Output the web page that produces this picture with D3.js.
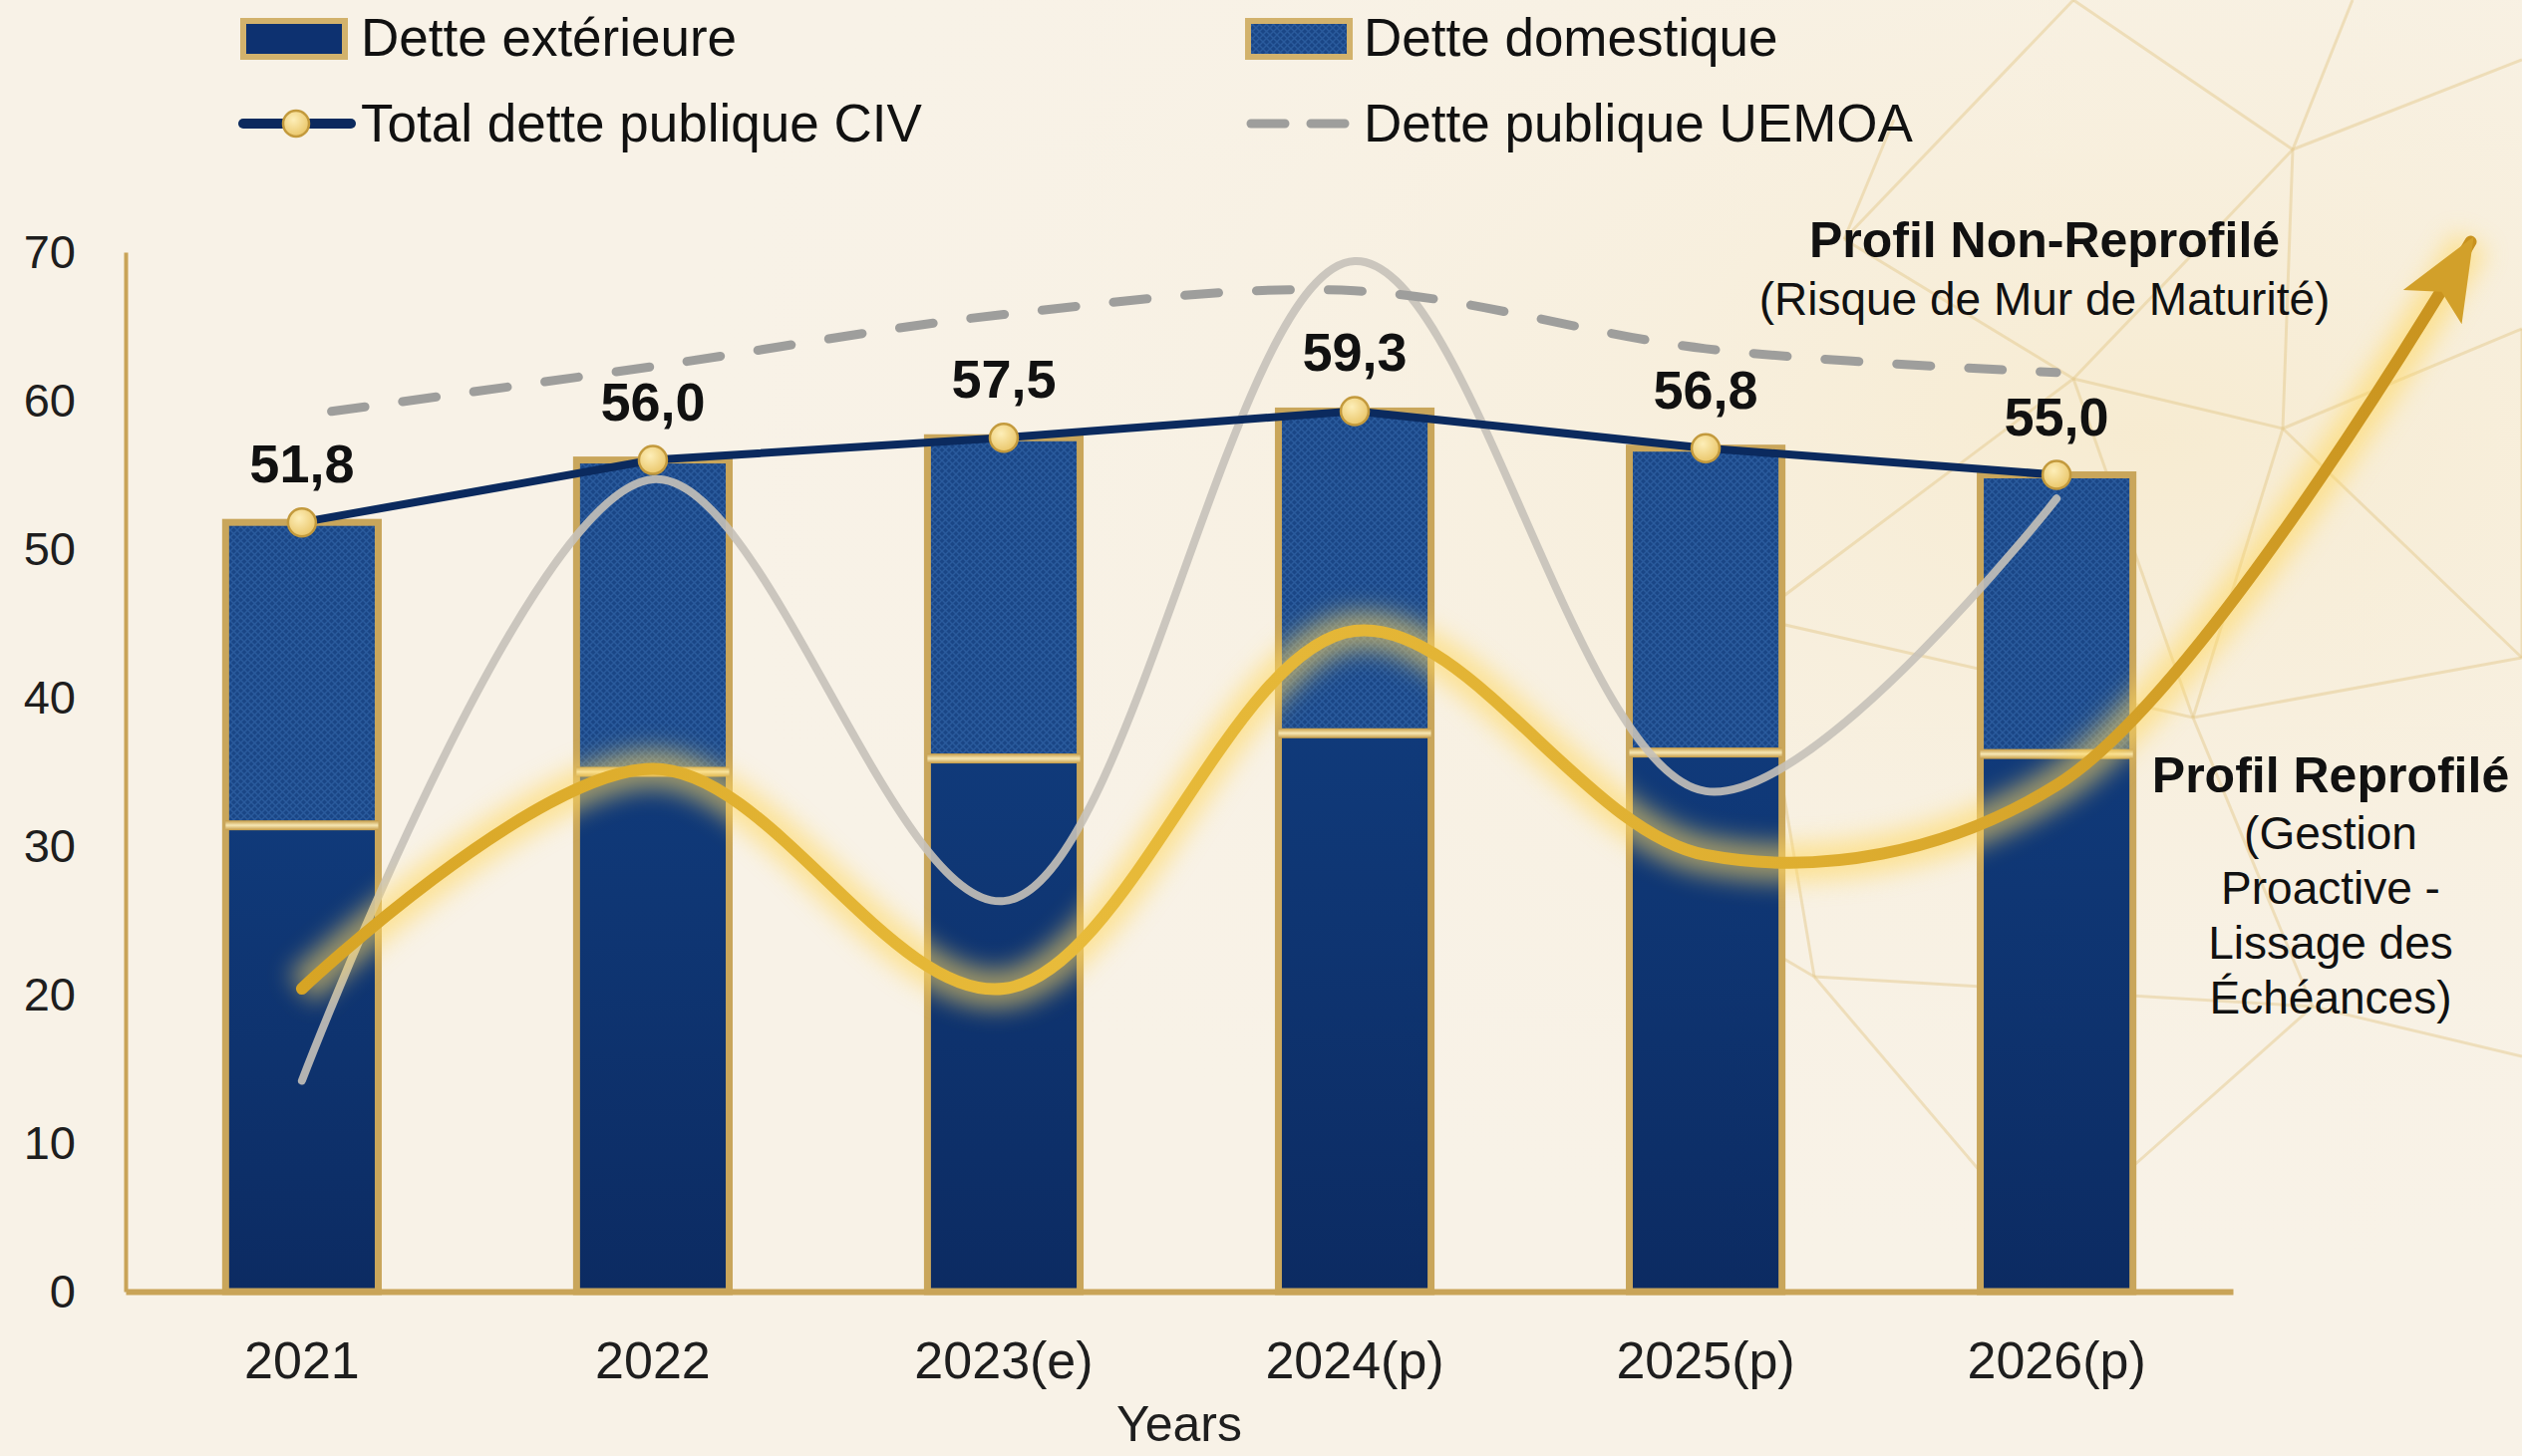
<!doctype html>
<html>
<head>
<meta charset="utf-8">
<script src="https://cdn.jsdelivr.net/npm/d3@7"></script>
<style>
  body { margin: 0; background: #f8f2e7; }
  svg { display: block; font-family: "Liberation Sans", Arial, sans-serif; }
</style>
</head>
<body>
<svg id="chart" width="2530" height="1461"></svg>
<script>
// ---- data ----
const years = ["2021", "2022", "2023(e)", "2024(p)", "2025(p)", "2026(p)"];
const detteExterieure = [31.4, 35.0, 35.9, 37.6, 36.3, 36.2];
const detteDomestique = [20.4, 21.0, 21.6, 21.7, 20.5, 18.8];
const totalDette = [51.8, 56.0, 57.5, 59.3, 56.8, 55.0];
const totalLabels = ["51,8", "56,0", "57,5", "59,3", "56,8", "55,0"];
const detteUemoa = [59.0, 62.3, 65.8, 67.4, 63.5, 61.9];
const profilNonReprofile = [14.2, 54.7, 26.3, 69.4, 33.7, 53.4];
const profilReprofile = [20.4, 35.2, 20.4, 44.5, 29.4, 34.1];
const reprofileArrowTip = { pos: 6.18, value: 70.7 };
const yTicks = [0, 10, 20, 30, 40, 50, 60, 70];

// faint decorative lattice in the background (not data)
const decoLines = [
  [2080, 0, 2300, 150], [2300, 150, 2530, 60], [2300, 150, 2290, 430], [2080, 380, 2300, 150],
  [2080, 380, 2290, 430], [2290, 430, 2530, 330], [2290, 430, 2200, 720], [2080, 380, 2200, 720],
  [2200, 720, 2530, 660], [1850, 240, 2080, 380], [1850, 240, 2080, 0], [1760, 620, 2080, 380],
  [1760, 620, 2200, 720], [2200, 720, 2320, 1010], [1760, 620, 1820, 980], [1820, 980, 2320, 1010],
  [2320, 1010, 2530, 1060], [1820, 980, 2050, 1250], [2050, 1250, 2320, 1010], [2530, 330, 2530, 660],
  [2290, 430, 2530, 660], [1900, 120, 1850, 240], [2360, 0, 2300, 150], [1650, 880, 1820, 980]
];

const svg = d3.select("#chart");
const defs = svg.append("defs");

// background
const bgGrad = defs.append("radialGradient").attr("id", "bgGlow")
  .attr("cx", 0.85).attr("cy", 0.3).attr("r", 0.6);
bgGrad.append("stop").attr("offset", "0%").attr("stop-color", "#f6e6bf").attr("stop-opacity", 0.55);
bgGrad.append("stop").attr("offset", "100%").attr("stop-color", "#f8f2e7").attr("stop-opacity", 0);
svg.append("rect").attr("width", 2530).attr("height", 1461).attr("fill", "#f8f2e7");
svg.append("rect").attr("width", 2530).attr("height", 1461).attr("fill", "url(#bgGlow)");
svg.append("g").selectAll("line").data(decoLines).enter().append("line")
  .attr("x1", d => d[0]).attr("y1", d => d[1]).attr("x2", d => d[2]).attr("y2", d => d[3])
  .style("stroke", "#e3c788").style("stroke-width", 3).style("opacity", 0.45);

// gradients and patterns
const extGrad = defs.append("linearGradient").attr("id", "extGrad").attr("x1", 0).attr("y1", 0).attr("x2", 0).attr("y2", 1);
extGrad.append("stop").attr("offset", "0%").attr("stop-color", "#103a7a");
extGrad.append("stop").attr("offset", "100%").attr("stop-color", "#0c2b62");

const domPat = defs.append("pattern").attr("id", "domPat").attr("patternUnits", "userSpaceOnUse")
  .attr("width", 7).attr("height", 7);
domPat.append("rect").attr("width", 7).attr("height", 7).attr("fill", "#1a4686");
domPat.append("path").attr("d", "M0,0L7,7M7,0L0,7").style("stroke", "#2a5b9d").style("stroke-width", 1.4);

const sepGrad = defs.append("linearGradient").attr("id", "sepGrad").attr("x1", 0).attr("y1", 0).attr("x2", 0).attr("y2", 1);
sepGrad.append("stop").attr("offset", "0%").attr("stop-color", "#c49a45");
sepGrad.append("stop").attr("offset", "50%").attr("stop-color", "#f6e7b4");
sepGrad.append("stop").attr("offset", "100%").attr("stop-color", "#c49a45");

const goldGrad = defs.append("linearGradient").attr("id", "goldGrad")
  .attr("gradientUnits", "userSpaceOnUse").attr("x1", 300).attr("y1", 0).attr("x2", 2480).attr("y2", 0);
goldGrad.append("stop").attr("offset", "0%").attr("stop-color", "#d7a424");
goldGrad.append("stop").attr("offset", "35%").attr("stop-color", "#e8bb3a");
goldGrad.append("stop").attr("offset", "70%").attr("stop-color", "#deae30");
goldGrad.append("stop").attr("offset", "100%").attr("stop-color", "#c8921e");

const dotGrad = defs.append("radialGradient").attr("id", "dotGrad").attr("cx", 0.4).attr("cy", 0.35).attr("r", 0.7);
dotGrad.append("stop").attr("offset", "0%").attr("stop-color", "#fdeeb8");
dotGrad.append("stop").attr("offset", "100%").attr("stop-color", "#e9c465");

defs.append("filter").attr("id", "glow").attr("x", "-20%").attr("y", "-40%").attr("width", "140%").attr("height", "180%")
  .append("feGaussianBlur").attr("stdDeviation", 12);

defs.append("marker").attr("id", "arrow").attr("markerUnits", "userSpaceOnUse")
  .attr("viewBox", "0 0 86 76").attr("refX", 76).attr("refY", 38)
  .attr("markerWidth", 86).attr("markerHeight", 76).attr("orient", "auto")
  .append("path").attr("d", "M0,4L82,38L0,72L18,38Z").attr("fill", "#d2a02a");

// scales
const x = d3.scaleBand().domain(years).range([126, 2240]).paddingInner(0.565).paddingOuter(0.285);
const y = d3.scaleLinear().domain([0, 70]).range([1296, 253]);
const cx = i => x(years[i]) + x.bandwidth() / 2;
const xPos = d3.scaleLinear().domain([0, years.length - 1]).range([cx(0), cx(years.length - 1)]);

// axes
const yAxisG = svg.append("g").attr("transform", "translate(126,0)")
  .call(d3.axisLeft(y).tickValues(yTicks).tickSize(0).tickSizeOuter(0).tickPadding(50));
yAxisG.select(".domain").style("stroke", "#c9a458").style("stroke-width", 4);
yAxisG.selectAll("text").style("font-size", "47px").style("fill", "#1e1e1e")
  .style("font-family", "'Liberation Sans', Arial, sans-serif");

// stacked bars
const table = years.map((yr, i) => ({ year: yr, ext: detteExterieure[i], dom: detteDomestique[i] }));
const stacked = d3.stack().keys(["ext", "dom"])(table);

const barG = svg.append("g");
barG.selectAll("rect.ext").data(stacked[0]).enter().append("rect")
  .attr("x", d => x(d.data.year)).attr("width", x.bandwidth())
  .attr("y", d => y(d[1])).attr("height", d => y(d[0]) - y(d[1]))
  .attr("fill", "url(#extGrad)");
barG.selectAll("rect.dom").data(stacked[1]).enter().append("rect")
  .attr("x", d => x(d.data.year)).attr("width", x.bandwidth())
  .attr("y", d => y(d[1])).attr("height", d => y(d[0]) - y(d[1]))
  .attr("fill", "url(#domPat)");
barG.selectAll("rect.frame").data(stacked[1]).enter().append("rect")
  .attr("x", d => x(d.data.year)).attr("width", x.bandwidth())
  .attr("y", d => y(d[1])).attr("height", d => y(0) - y(d[1]))
  .attr("fill", "none").style("stroke", "#c9a65b").style("stroke-width", 7);
barG.selectAll("rect.sep").data(stacked[0]).enter().append("rect")
  .attr("x", d => x(d.data.year)).attr("width", x.bandwidth())
  .attr("y", d => y(d[1]) - 5).attr("height", 10)
  .attr("fill", "url(#sepGrad)");

// x axis
const xAxisG = svg.append("g").attr("transform", "translate(0,1296)")
  .call(d3.axisBottom(x).tickSize(0).tickSizeOuter(0).tickPadding(50));
xAxisG.select(".domain").style("stroke", "#c9a458").style("stroke-width", 6);
xAxisG.selectAll("text").style("font-size", "52px").style("fill", "#1e1e1e")
  .style("font-family", "'Liberation Sans', Arial, sans-serif");

svg.append("text").attr("x", (126 + 2240) / 2).attr("y", 1446).attr("text-anchor", "middle")
  .style("font-size", "50px").style("fill", "#1e1e1e").text("Years");

// non-reprofiled profile (grey curve)
const curveLine = d3.line().x((d, i) => xPos(i)).y(d => y(d)).curve(d3.curveCatmullRom.alpha(0.5));
svg.append("path").datum(profilNonReprofile).attr("d", curveLine)
  .attr("fill", "none").style("stroke", "#c5c1b9").style("stroke-width", 8)
  .style("stroke-linecap", "round").style("opacity", 0.9);

// reprofiled profile (gold curve with glow and arrow)
const goldPts = profilReprofile.map((v, i) => ({ pos: i, value: v })).concat([reprofileArrowTip]);
const goldLine = d3.line().x(d => xPos(d.pos)).y(d => y(d.value)).curve(d3.curveCatmullRom.alpha(0.5));
svg.append("path").datum(goldPts).attr("d", goldLine)
  .attr("fill", "none").style("stroke", "#ffd860").style("stroke-width", 38)
  .style("opacity", 0.6).attr("filter", "url(#glow)");
svg.append("path").datum(goldPts).attr("d", goldLine)
  .attr("fill", "none").style("stroke", "url(#goldGrad)").style("stroke-width", 12)
  .style("stroke-linecap", "round").attr("marker-end", "url(#arrow)");

// UEMOA dashed line
svg.append("path").datum(detteUemoa).attr("d", curveLine)
  .attr("fill", "none").style("stroke", "#9e9e9c").style("stroke-width", 9)
  .style("stroke-dasharray", "34,38").style("stroke-dashoffset", -30).style("stroke-linecap", "round");

// total CIV line
const totalLine = d3.line().x((d, i) => xPos(i)).y(d => y(d));
svg.append("path").datum(totalDette).attr("d", totalLine)
  .attr("fill", "none").style("stroke", "#0b2a5e").style("stroke-width", 8);
svg.append("g").selectAll("circle").data(totalDette).enter().append("circle")
  .attr("cx", (d, i) => xPos(i)).attr("cy", d => y(d)).attr("r", 14)
  .attr("fill", "url(#dotGrad)").style("stroke", "#c39a3d").style("stroke-width", 2.5);
svg.append("g").selectAll("text").data(totalDette).enter().append("text")
  .attr("x", (d, i) => xPos(i)).attr("y", d => y(d) - 40).attr("text-anchor", "middle")
  .style("font-size", "54px").style("font-weight", "bold").style("fill", "#111")
  .text((d, i) => totalLabels[i]);

// annotations
const annNon = svg.append("text").attr("text-anchor", "middle").style("fill", "#111");
annNon.append("tspan").attr("x", 2051).attr("y", 258).style("font-size", "50px").style("font-weight", "bold")
  .text("Profil Non-Reprofilé");
annNon.append("tspan").attr("x", 2051).attr("y", 316).style("font-size", "46px")
  .text("(Risque de Mur de Maturité)");

const annRep = svg.append("text").attr("text-anchor", "middle").style("fill", "#111");
annRep.append("tspan").attr("x", 2338).attr("y", 795).style("font-size", "50px").style("font-weight", "bold")
  .text("Profil Reprofilé");
["(Gestion", "Proactive -", "Lissage des", "Échéances)"].forEach((t, i) => {
  annRep.append("tspan").attr("x", 2338).attr("y", 852 + i * 55).style("font-size", "46px").text(t);
});

// legend
const leg = svg.append("g");
leg.append("rect").attr("x", 244).attr("y", 21).attr("width", 102).attr("height", 36)
  .attr("fill", "#0d3170").style("stroke", "#d2b26c").style("stroke-width", 6);
leg.append("text").attr("x", 362).attr("y", 56).style("font-size", "53px").style("fill", "#111").text("Dette extérieure");
leg.append("rect").attr("x", 1252).attr("y", 21).attr("width", 102).attr("height", 36)
  .attr("fill", "url(#domPat)").style("stroke", "#d2b26c").style("stroke-width", 6);
leg.append("text").attr("x", 1368).attr("y", 56).style("font-size", "53px").style("fill", "#111").text("Dette domestique");

leg.append("line").attr("x1", 244).attr("x2", 352).attr("y1", 124).attr("y2", 124)
  .style("stroke", "#0b2a5e").style("stroke-width", 10).style("stroke-linecap", "round");
leg.append("circle").attr("cx", 297).attr("cy", 124).attr("r", 13)
  .attr("fill", "url(#dotGrad)").style("stroke", "#c39a3d").style("stroke-width", 2.5);
leg.append("text").attr("x", 362).attr("y", 142).style("font-size", "53px").style("fill", "#111").text("Total dette publique CIV");
leg.append("line").attr("x1", 1255).attr("x2", 1352).attr("y1", 124).attr("y2", 124)
  .style("stroke", "#9e9e9c").style("stroke-width", 9).style("stroke-dasharray", "34,26").style("stroke-linecap", "round");
leg.append("text").attr("x", 1368).attr("y", 142).style("font-size", "53px").style("fill", "#111").text("Dette publique UEMOA");
</script>
</body>
</html>
